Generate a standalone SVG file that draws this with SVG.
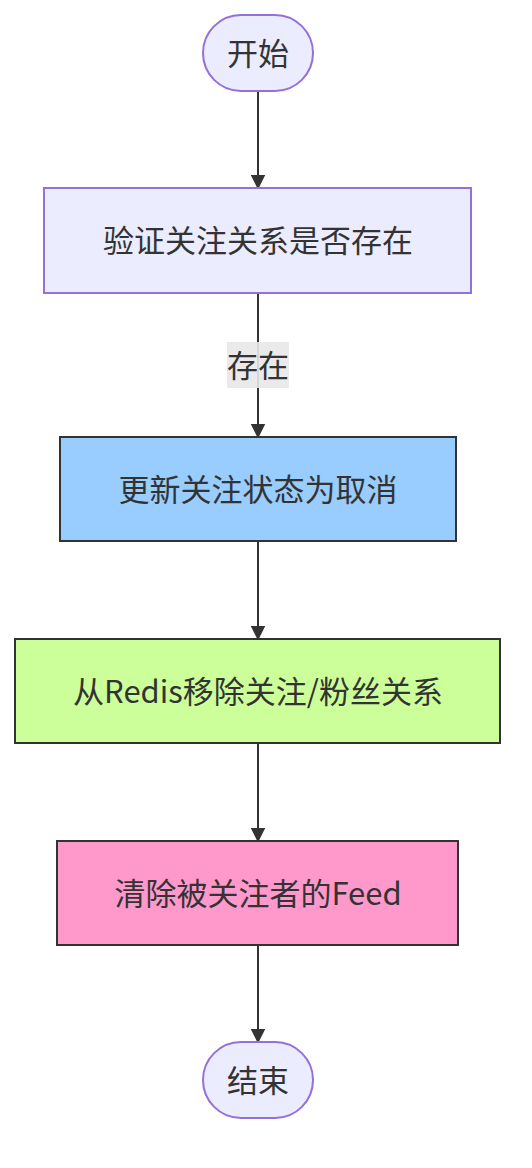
<svg xmlns="http://www.w3.org/2000/svg" width="532" height="1168" viewBox="0 0 532 1168">
<style>
text{font-family:"Noto Sans CJK SC","Noto Sans",sans-serif;font-size:31px;fill:#333;text-anchor:middle;dominant-baseline:central}
.edge{stroke:#333;stroke-width:2;fill:none}
.term{fill:#ECECFF;stroke:#9370DB;stroke-width:2}
.box{stroke:#333;stroke-width:2}
</style>
<defs>
<marker id="arr" viewBox="0 0 10 10" refX="9" refY="5" markerWidth="15" markerHeight="15" markerUnits="userSpaceOnUse" orient="auto">
<path d="M0,0 L10,5 L0,10 z" fill="#333"/>
</marker>
</defs>
<g id="edges">
<path class="edge" d="M258,91 L258,188" marker-end="url(#arr)"/>
<path class="edge" d="M258,293 L258,437" marker-end="url(#arr)"/>
<path class="edge" d="M258,541 L258,639" marker-end="url(#arr)"/>
<path class="edge" d="M258,743 L258,841" marker-end="url(#arr)"/>
<path class="edge" d="M258,945 L258,1042" marker-end="url(#arr)"/>
<g id="edge-label">
<rect x="227" y="342" width="62" height="46" fill="#e8e8e8" opacity="0.9"/>
<text x="258" y="363">存在</text>
</g>
</g>
<g id="start">
<rect class="term" x="203" y="15" width="110" height="76" rx="38" ry="38"/>
<text x="258" y="51">开始</text>
</g>
<g id="verify">
<rect class="term" x="44" y="188" width="427" height="105"/>
<text x="258" y="238">验证关注关系是否存在</text>
</g>
<g id="update">
<rect class="box" x="60" y="437" width="396" height="104" fill="#99CCFF"/>
<text x="258" y="487">更新关注状态为取消</text>
</g>
<g id="redis">
<rect class="box" x="15" y="639" width="485" height="104" fill="#CCFF99"/>
<text x="258" y="689">从Redis移除关注/粉丝关系</text>
</g>
<g id="feed">
<rect class="box" x="57" y="841" width="401" height="104" fill="#FF99CC"/>
<text x="258" y="891">清除被关注者的Feed</text>
</g>
<g id="end">
<rect class="term" x="203" y="1042" width="110" height="76" rx="38" ry="38"/>
<text x="258" y="1078">结束</text>
</g>
</svg>
